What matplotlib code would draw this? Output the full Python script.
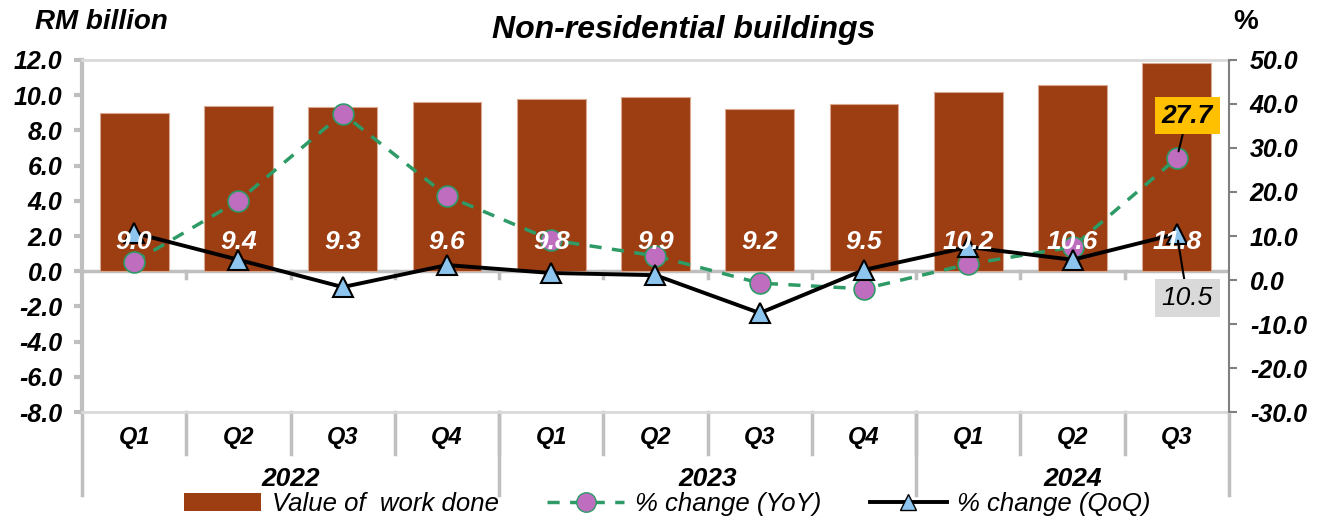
import matplotlib.pyplot as plt
import matplotlib.transforms as mtransforms
from matplotlib.lines import Line2D
from matplotlib.patches import Patch
import numpy as np

plt.rcParams['font.family'] = ['Liberation Sans', 'DejaVu Sans']

# Data
quarters = ['Q1', 'Q2', 'Q3', 'Q4', 'Q1', 'Q2', 'Q3', 'Q4', 'Q1', 'Q2', 'Q3']
years = ['2022', '2023', '2024']
year_sizes = [4, 4, 3]
value_work_done = [9.0, 9.4, 9.3, 9.6, 9.8, 9.9, 9.2, 9.5, 10.2, 10.6, 11.8]
yoy_change = [4.1, 18.0, 37.8, 19.1, 9.1, 5.5, -0.7, -2.0, 3.6, 7.5, 27.7]
qoq_change = [10.7, 4.6, -1.6, 3.4, 1.6, 1.1, -7.5, 2.3, 7.5, 4.6, 10.5]

bar_color = '#9C3D12'
yoy_color = '#2E9A66'
yoy_face = '#BF6DBF'
qoq_face = '#8DC5EE'
grey = '#BFBFBF'

fig = plt.figure(figsize=(13.35, 5.21), dpi=100)
ax = fig.add_axes([0.0614, 0.209, 0.8592, 0.676])
x = np.arange(len(value_work_done))

# Bars on left axis
ax.bar(x, value_work_done, width=0.66, color=bar_color, edgecolor='#D8A890',
       linewidth=0.8, zorder=2)
ax.set_xlim(-0.5, len(x) - 0.5)
ax.set_ylim(-8, 12)
ax.set_yticks(np.arange(-8, 12.1, 2))
ax.set_yticklabels([f'{v:.1f}' for v in np.arange(-8, 12.1, 2)])

# category line at zero with small ticks between bars
ax.axhline(0, color=grey, lw=2.5, zorder=1)
for b in np.arange(0.5, len(x) - 0.5):
    ax.plot([b, b], [0, -0.4], color=grey, lw=2.5, zorder=1)

ax.set_xticks([])
for side in ['top', 'bottom']:
    ax.spines[side].set_color('#D9D9D9')
    ax.spines[side].set_linewidth(2)
ax.spines['left'].set_color(grey)
ax.spines['left'].set_linewidth(3)
ax.spines['right'].set_visible(False)
ax.tick_params(axis='y', colors=grey, width=3, length=6, pad=8)
for lab in ax.get_yticklabels():
    lab.set_color('black')
    lab.set_fontsize(18)
    lab.set_fontweight('bold')
    lab.set_fontstyle('italic')

# Lines on right axis
ax2 = ax.twinx()
ax2.set_ylim(-30, 50)
ax2.set_yticks(np.arange(-30, 50.1, 10))
ax2.set_yticklabels([f'{v:.1f}' for v in np.arange(-30, 50.1, 10)])
ax2.plot(x, yoy_change, ls=(0, (3.5, 3)), color=yoy_color, lw=2.5,
         marker='o', ms=15, mfc=yoy_face, mec=yoy_color, mew=1.2, zorder=3)
ax2.plot(x, qoq_change, color='black', lw=2.8, marker='^', ms=15,
         mfc=qoq_face, mec='black', mew=1.5, zorder=4)
for side in ['top', 'bottom', 'left']:
    ax2.spines[side].set_visible(False)
ax2.spines['right'].set_color('#808080')
ax2.spines['right'].set_linewidth(1.5)
ax2.tick_params(axis='y', colors='#808080', width=1.5, length=6, pad=9)
for lab in ax2.get_yticklabels():
    lab.set_color('black')
    lab.set_fontsize(18)
    lab.set_fontweight('bold')
    lab.set_fontstyle('italic')

# bar value labels (drawn on top of everything)
for xi, v in zip(x, value_work_done):
    ax2.text(xi, 1.65, f'{v:.1f}', transform=ax.transData, ha='center',
             va='center', color='white', fontsize=19, fontweight='bold',
             fontstyle='italic', zorder=6)

# callouts for the latest quarter
ax2.annotate('27.7', xy=(x[-1], yoy_change[-1]), xytext=(x[-1] + 0.1, 37.3),
             ha='center', va='center', fontsize=19, fontweight='bold',
             fontstyle='italic',
             bbox=dict(boxstyle='square,pad=0.25', fc='#FFC000', ec='none'),
             arrowprops=dict(arrowstyle='-', color='black', lw=1.5,
                             shrinkA=0, shrinkB=5), zorder=7)
ax2.annotate('10.5', xy=(x[-1], qoq_change[-1]), xytext=(x[-1] + 0.1, -4.1),
             ha='center', va='center', fontsize=19, fontstyle='italic',
             bbox=dict(boxstyle='square,pad=0.25', fc='#D9D9D9', ec='none'),
             arrowprops=dict(arrowstyle='-', color='black', lw=1.5,
                             shrinkA=0, shrinkB=5), zorder=7)

# multi-level category axis
trans = mtransforms.blended_transform_factory(ax.transData, ax.transAxes)
for xi, q in zip(x, quarters):
    ax.text(xi, -0.073, q, transform=trans, ha='center', va='center',
            fontsize=17, fontweight='bold', fontstyle='italic')
for b in np.arange(0.5, len(x) - 0.5):
    ax.plot([b, b], [0, -0.118], transform=trans, color=grey, lw=2.5,
            clip_on=False)
start = -0.5
for yr, n in zip(years, year_sizes):
    ax.text(start + n / 2, -0.19, yr, transform=trans, ha='center',
            va='center', fontsize=19, fontweight='bold', fontstyle='italic')
    start += n
edges = [-0.5] + list(np.cumsum(year_sizes) - 0.5)
for e in edges:
    ax.plot([e, e], [0, -0.236], transform=trans, color=grey, lw=2.5,
            clip_on=False)

# titles
fig.text(0.512, 0.942, 'Non-residential buildings', ha='center', va='center',
         fontsize=23, fontweight='bold', fontstyle='italic')
fig.text(0.026, 0.958, 'RM billion', ha='left', va='center', fontsize=20,
         fontweight='bold', fontstyle='italic')
fig.text(0.933, 0.958, '%', ha='center', va='center', fontsize=20,
         fontweight='bold')

# legend
handles = [
    Patch(facecolor=bar_color, edgecolor='none'),
    Line2D([], [], ls=(0, (3.5, 3)), color=yoy_color, lw=2.5, marker='o',
           ms=14, mfc=yoy_face, mec=yoy_color),
    Line2D([], [], color='black', lw=2.8, marker='^', ms=12, mfc=qoq_face,
           mec='black'),
]
labels = ['Value of  work done', '% change (YoY)', '% change (QoQ)']
fig.legend(handles, labels, loc='center', bbox_to_anchor=(0.5, 0.033),
           ncol=3, frameon=False, handlelength=3.0, handletextpad=0.4,
           columnspacing=1.9, prop={'size': 18.5, 'style': 'italic'})

fig.savefig('out.png', dpi=100)
